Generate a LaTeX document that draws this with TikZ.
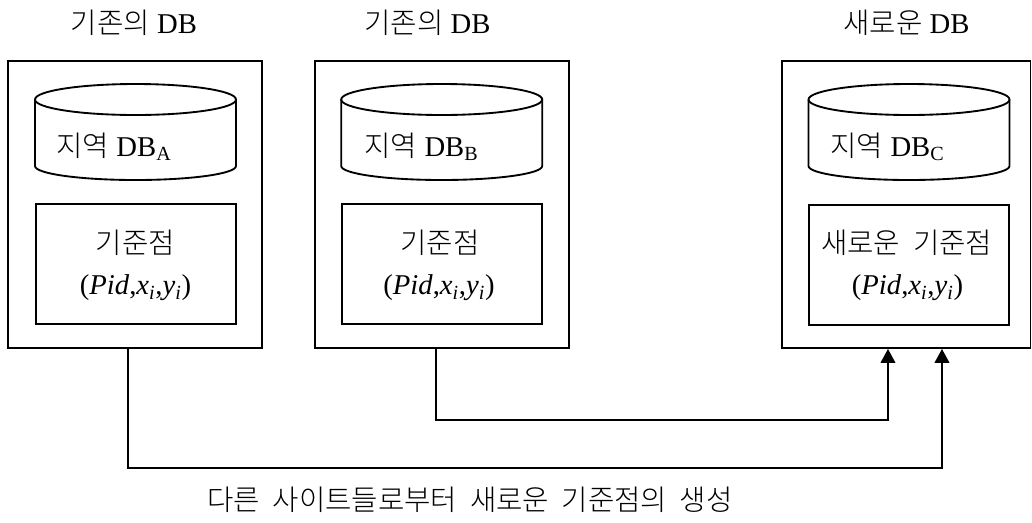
\documentclass[tikz,border=0pt]{standalone}
\usepackage{fontspec}
\setmainfont{Liberation Serif}
\newfontfamily\kr[WordSpace=2]{Noto Sans CJK KR Light}
\usetikzlibrary{arrows.meta}
\begin{document}
\begin{tikzpicture}[x=0.75pt,y=-0.75pt,line width=1.4pt,
  outerbox/.style={draw,rectangle,inner sep=0pt,minimum width=254*0.75pt,minimum height=287*0.75pt},
  innerbox/.style={draw,rectangle,line width=1.5pt,inner sep=0pt,minimum width=200*0.75pt,minimum height=120*0.75pt},
  txt/.style={inner sep=0pt,font=\fontsize{21.5pt}{24pt}\selectfont},
  cyl/.style={line width=1.4pt},
  arr/.style={-{Triangle[length=10.5pt,width=11pt]}}]
\useasboundingbox (0,0) rectangle (1032,522);
% outer boxes
\node[outerbox] (boxA) at (135,204.5) {};
\node[outerbox] (boxB) at (441.7,204.5) {};
\node[outerbox,minimum width=248.5*0.75pt] (boxC) at (906.25,204.5) {};
% titles
\node[txt] (tA) at (134,23) {{\kr 기존의}\ DB};
\node[txt] (tB) at (427.5,23) {{\kr 기존의}\ DB};
\node[txt] (tC) at (906.5,23) {{\kr 새로운}\ DB};
% cylinders
\foreach \cx in {135.5,441.7,909} {
  \draw[cyl] (\cx,99.5) ellipse [x radius=100.5,y radius=15.5];
  \draw[cyl] (\cx-100.5,99.5) -- (\cx-100.5,166) arc[start angle=180,end angle=0,x radius=100.5,y radius=14] -- (\cx+100.5,99.5);
}
\node[txt] (dA) at (114,147) {{\kr 지역}\ DB\textsubscript{A}};
\node[txt] (dB) at (421.5,147) {{\kr 지역}\ DB\textsubscript{B}};
\node[txt] (dC) at (887.5,147) {{\kr 지역}\ DB\textsubscript{C}};
% inner boxes
\node[innerbox] (iA) at (135.5,264) {};
\node[innerbox] (iB) at (441.7,264) {};
\node[innerbox] (iC) at (908.5,264.5) {};
\node[txt] (kA) at (135.5,243) {\kr 기준점};
\node[txt] (kB) at (440,243) {\kr 기준점};
\node[txt] (kC) at (906.7,243) {\kr 새로운 기준점};
\node[txt] (pA) at (135.5,288) {(\textit{Pid},\textit{x\textsubscript{i}},\textit{y\textsubscript{i}})};
\node[txt] (pB) at (439,288) {(\textit{Pid},\textit{x\textsubscript{i}},\textit{y\textsubscript{i}})};
\node[txt] (pC) at (907.5,288) {(\textit{Pid},\textit{x\textsubscript{i}},\textit{y\textsubscript{i}})};
% connectors
\draw[arr] ([xshift=-5.25pt]boxA.south) -- ++(0,119) -| ([xshift=26.8pt]boxC.south);
\draw[arr] ([xshift=-4.5pt]boxB.south) -- ++(0,71) -| ([xshift=-13.7pt]boxC.south);
% caption
\node[txt] (cap) at (470,500) {\kr 다른 사이트들로부터 새로운 기준점의 생성};
\end{tikzpicture}
\end{document}
